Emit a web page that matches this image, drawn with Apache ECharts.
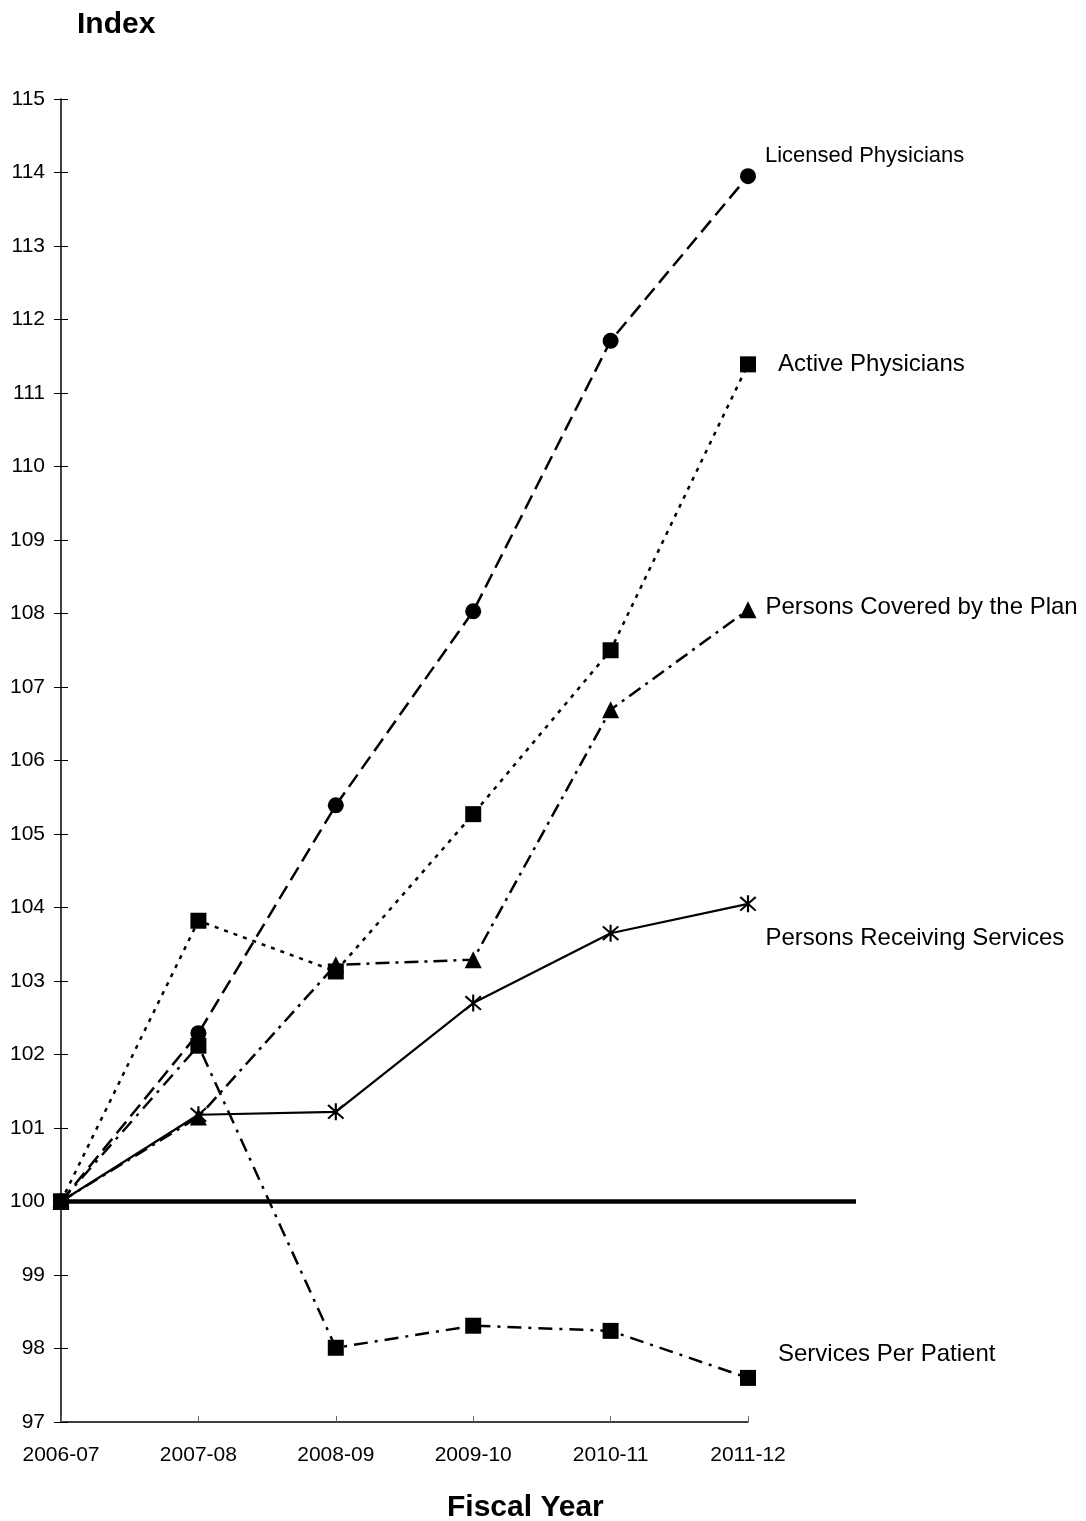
<!DOCTYPE html>
<html>
<head>
<meta charset="utf-8">
<script src="https://cdn.jsdelivr.net/npm/echarts@6/dist/echarts.min.js"></script>
<style>
html,body{margin:0;padding:0;background:#fff;}
#chart{width:1086px;height:1521px;}
</style>
</head>
<body>
<div id="chart"></div>
<script>
const categories = ['2006-07','2007-08','2008-09','2009-10','2010-11','2011-12'];
const licensedPhysicians = [100, 102.29, 105.39, 108.03, 111.71, 113.95];
const activePhysicians = [100, 103.82, 103.13, 105.27, 107.5, 111.39];
const personsCovered = [100, 101.15, 103.22, 103.29, 106.69, 108.05];
const personsReceiving = [100, 101.18, 101.22, 102.70, 103.65, 104.05];
const servicesPerPatient = [100, 102.12, 98.01, 98.31, 98.24, 97.6];
const yTicks = [97,98,99,100,101,102,103,104,105,106,107,108,109,110,111,112,113,114,115];
const baselineValue = 100;

const FONT = 'Liberation Sans, Arial, Helvetica, sans-serif';
const asterisk = 'path://M8.9 0 L11.1 0 L11.1 20 L8.9 20 Z M2.78 1.22 L18.78 17.22 L17.22 18.78 L1.22 2.78 Z M17.22 1.22 L18.78 2.78 L2.78 18.78 L1.22 17.22 Z';

function withEndLabel(values, text, labelOpts) {
  const last = values.length - 1;
  return values.map((v, i) => i === last ? {
    value: v,
    label: Object.assign({
      show: true, formatter: text, position: 'right',
      color: '#000', fontFamily: FONT, fontSize: 24
    }, labelOpts)
  } : v);
}

function lineSeries(name, values, symbol, size, lineType, width, labelOpts) {
  return {
    name, type: 'line', xAxisIndex: 0, yAxisIndex: 0,
    data: withEndLabel(values, name, labelOpts),
    symbol, symbolSize: size,
    itemStyle: { color: '#000' },
    lineStyle: { color: '#000', width, type: lineType },
    animation: false, z: 3
  };
}

const chart = echarts.init(document.getElementById('chart'));
chart.setOption({
  backgroundColor: '#fff',
  animation: false,
  title: [
    { text: 'Index', left: 72, top: 5, textStyle: { fontFamily: FONT, fontSize: 30, fontWeight: 'bold', color: '#000' } },
    { text: 'Fiscal Year', left: 442, top: 1488, textStyle: { fontFamily: FONT, fontSize: 30, fontWeight: 'bold', color: '#000' } }
  ],
  grid: [
    { left: 61, right: 338, top: 99, bottom: 99 },
    { left: 61, right: 230, top: 99, bottom: 99 }
  ],
  xAxis: [
    {
      type: 'category', data: categories, boundaryGap: false, gridIndex: 0,
      axisLine: { lineStyle: { color: '#000', width: 1.5 } },
      axisTick: { inside: true, length: 6, alignWithLabel: true, lineStyle: { color: '#666', width: 1 } },
      axisLabel: { color: '#000', fontFamily: FONT, fontSize: 21, margin: 23 },
      splitLine: { show: false }
    },
    { type: 'value', gridIndex: 1, min: 0, max: 1, show: false }
  ],
  yAxis: [
    {
      type: 'value', min: 97, max: 115, interval: 1, gridIndex: 0,
      axisLine: { show: true, lineStyle: { color: '#000', width: 1.5 } },
      axisTick: { show: true, length: 7, lineStyle: { color: '#000', width: 1 } },
      axisLabel: { color: '#000', fontFamily: FONT, fontSize: 21, margin: 16 },
      splitLine: { show: false }
    },
    {
      type: 'value', min: 97, max: 115, interval: 1, gridIndex: 0, position: 'left',
      axisLine: { show: false },
      axisTick: { show: true, inside: true, length: 7, lineStyle: { color: '#000', width: 1 } },
      axisLabel: { show: false },
      splitLine: { show: false }
    },
    { type: 'value', min: 97, max: 115, gridIndex: 1, show: false }
  ],
  series: [
    {
      name: 'baseline', type: 'line', xAxisIndex: 1, yAxisIndex: 2,
      data: [[0, baselineValue], [1, baselineValue]],
      symbol: 'none', lineStyle: { color: '#000', width: 4.5 }, z: 1, animation: false
    },
    lineSeries('Persons Receiving Services', personsReceiving, asterisk, 17, 'solid', 2.2,
      { distance: 9, offset: [0, 35] }),
    lineSeries('Persons Covered by the Plan', personsCovered, 'triangle', 17, [14, 6, 3, 6], 2.5,
      { distance: 9, offset: [0, -2] }),
    lineSeries('Licensed Physicians', licensedPhysicians, 'circle', 16, [15, 7], 2.5,
      { distance: 9, offset: [0, -20], fontSize: 22 }),
    lineSeries('Services Per Patient', servicesPerPatient, 'rect', 16, [14, 7, 3, 7], 2.5,
      { distance: 22, offset: [0, -24] }),
    lineSeries('Active Physicians', activePhysicians, 'rect', 16, [4, 6], 2.5,
      { distance: 22, offset: [0, 0] })
  ]
});
</script>
</body>
</html>
